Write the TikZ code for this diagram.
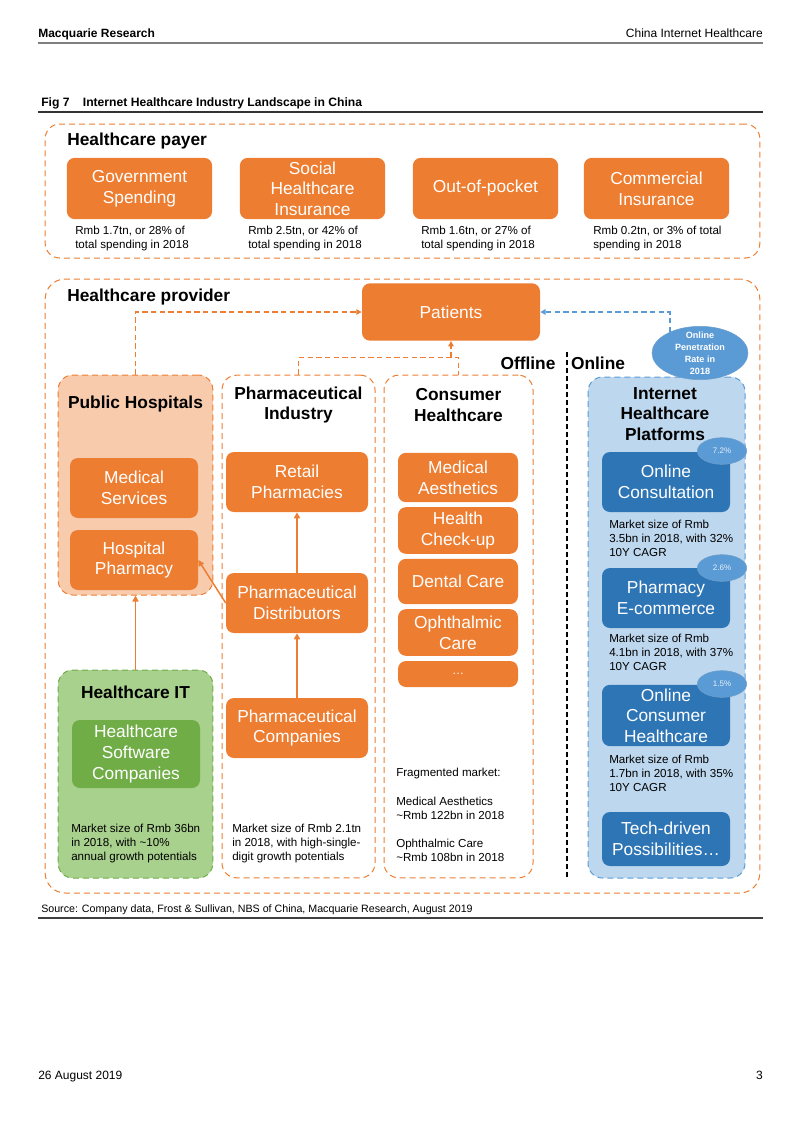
\documentclass[tikz,border=0pt]{standalone}
\usepackage{fontspec}
\setmainfont{Liberation Sans}
\usetikzlibrary{arrows.meta,shapes.geometric}
\definecolor{hcorange}{HTML}{ED7D31}
\definecolor{hcpeach}{HTML}{F8CBAD}
\definecolor{hcgreen}{HTML}{A9D18E}
\definecolor{hcdkgreen}{HTML}{70AD47}
\definecolor{hcltblue}{HTML}{BDD7EE}
\definecolor{hcblue}{HTML}{2E75B6}
\definecolor{hcmidblue}{HTML}{5B9BD5}
\newcommand\boxfont{\fontsize{13}{15.5}\selectfont}
\newcommand\notefont{\fontsize{8.7}{10.5}\selectfont}
\newcommand\headfont{\fontsize{13}{15.5}\selectfont\bfseries}

\begin{document}
\begin{tikzpicture}[x=0.75pt,y=-0.75pt,
    every node/.style={inner sep=0pt},
    obox/.style={fill=hcorange,text=white,rounded corners=6pt,align=center,font=\boxfont},
    bbox/.style={fill=hcblue,text=white,rounded corners=6pt,align=center,font=\boxfont},
    frame/.style={draw=hcorange,line width=0.75pt,dash pattern=on 4.5pt off 3pt,rounded corners=11pt},
    head/.style={font=\headfont,align=center},
    note/.style={font=\notefont,align=left,anchor=west},
    pct/.style={ellipse,fill=hcmidblue,draw=hcblue!70,line width=0.4pt,text=white!85!hcmidblue,
      font=\fontsize{6}{7}\selectfont,minimum width=37pt,minimum height=20pt},
    feed/.style={hcorange,line width=1.1pt,-{Triangle[length=4.5pt,width=4.5pt]}},
    odash/.style={hcorange,line width=1pt,dash pattern=on 4pt off 2.5pt},
    bdash/.style={hcmidblue,line width=1pt,dash pattern=on 4pt off 2.5pt}]
  \useasboundingbox (0,0) rectangle (802,1133);

  % page header and caption
  \node[anchor=base west,font=\fontsize{9}{11}\selectfont\bfseries] (mqr) at (38,37) {Macquarie Research};
  \node[anchor=base east,font=\fontsize{9}{11}\selectfont] (chn) at (763,37) {China Internet Healthcare};
  \draw[gray,line width=0.9pt] (38,43) -- (763,43);
  \node[anchor=base west,font=\fontsize{9.1}{11}\selectfont\bfseries] (fig) at (41,106)
    {Fig 7\hspace{1.1em}Internet Healthcare Industry Landscape in China};
  \draw[black!80,line width=1.1pt] (38,112) -- (763,112);

  % healthcare payer
  \node[frame,minimum width=536pt,minimum height=100.5pt] (payer) at (402.5,191) {};
  \node[head,anchor=west] (payerttl) at (67,141) {Healthcare payer};
  \node[obox,minimum width=109pt,minimum height=46pt] (gov) at (139.5,188.5) {Government\\Spending};
  \node[obox,minimum width=109pt,minimum height=46pt] (soc) at (312.5,188.5) {Social\\Healthcare\\Insurance};
  \node[obox,minimum width=109pt,minimum height=46pt] (oop) at (485.5,188.5) {Out-of-pocket};
  \node[obox,minimum width=109pt,minimum height=46pt] (com) at (656.5,188.5) {Commercial\\Insurance};
  \node[note] (govn) at (75,238.5) {Rmb 1.7tn, or 28\% of\\total spending in 2018};
  \node[note] (socn) at (248,238.5) {Rmb 2.5tn, or 42\% of\\total spending in 2018};
  \node[note] (oopn) at (421,238.5) {Rmb 1.6tn, or 27\% of\\total spending in 2018};
  \node[note] (comn) at (593,238.5) {Rmb 0.2tn, or 3\% of total\\spending in 2018};

  % healthcare provider
  \node[frame,rounded corners=15pt,minimum width=536pt,minimum height=460.5pt] (prov) at (402.5,586) {};
  \node[head,anchor=west] (provttl) at (67,297) {Healthcare provider};
  \node[obox,minimum width=133.5pt,minimum height=43pt] (pat) at (451,312) {Patients};

  % public hospitals
  \node[frame,fill=hcpeach,minimum width=116pt,minimum height=165pt] (hosp) at (135.5,485) {};
  \node[head] (hospttl) at (135.5,404) {Public Hospitals};
  \node[obox,minimum width=96pt,minimum height=45pt] (msv) at (134,488) {Medical\\Services};
  \node[obox,minimum width=96pt,minimum height=45pt] (hph) at (134,560) {Hospital\\Pharmacy};

  % healthcare IT
  \node[frame,draw=hcdkgreen,fill=hcgreen,minimum width=116pt,minimum height=156pt] (hit) at (135.5,774) {};
  \node[head] (hitttl) at (135.5,692) {Healthcare IT};
  \node[obox,fill=hcdkgreen,minimum width=96pt,minimum height=51pt] (sw) at (136,754) {Healthcare\\Software\\Companies};
  \node[note] (hitn) at (71,843) {Market size of Rmb 36bn\\in 2018, with \textasciitilde10\%\\annual growth potentials};

  % pharmaceutical industry
  \node[frame,minimum width=114.75pt,minimum height=377pt] (pharma) at (298.5,626.5) {};
  \node[head] (pharmattl) at (298.5,405) {Pharmaceutical\\Industry};
  \node[obox,minimum width=106.5pt,minimum height=45pt] (ret) at (297,482) {Retail\\Pharmacies};
  \node[obox,minimum width=106.5pt,minimum height=45pt] (dist) at (297,603) {Pharmaceutical\\Distributors};
  \node[obox,minimum width=106.5pt,minimum height=45pt] (comp) at (297,728) {Pharmaceutical\\Companies};
  \node[note] (pharman) at (232,843) {Market size of Rmb 2.1tn\\in 2018, with high-single-\\digit growth potentials};

  % consumer healthcare
  \node[frame,minimum width=111.75pt,minimum height=377pt] (cons) at (458.5,626.5) {};
  \node[head] (consttl) at (458.5,405) {Consumer\\Healthcare};
  \node[obox,minimum width=90pt,minimum height=37pt] (aes) at (458,477.5) {Medical\\Aesthetics};
  \node[obox,minimum width=90pt,minimum height=35pt] (chk) at (458,530.5) {Health\\Check-up};
  \node[obox,minimum width=90pt,minimum height=34pt] (dent) at (458,581.5) {Dental Care};
  \node[obox,minimum width=90pt,minimum height=35pt] (oph) at (458,632.5) {Ophthalmic\\Care};
  \node[obox,minimum width=90pt,minimum height=19.5pt,font=\fontsize{9}{10}\selectfont] (more) at (458,674) {…};
  \node[note] (fragn) at (396,773) {Fragmented market:};
  \node[note] (aesn) at (396,808) {Medical Aesthetics\\\textasciitilde Rmb 122bn in 2018};
  \node[note] (ophn) at (396,850) {Ophthalmic Care\\\textasciitilde Rmb 108bn in 2018};

  % offline / online divider
  \node[head] (offl) at (528,363) {Offline};
  \node[head] (onl) at (598,363) {Online};
  \draw[black,line width=1pt,dash pattern=on 3.5pt off 2.5pt] (567,352) -- (567,878);

  % internet healthcare platforms
  \node[frame,draw=hcmidblue,fill=hcltblue,minimum width=117.75pt,minimum height=375.75pt] (inet) at (666.5,627.5) {};
  \node[head] (inetttl) at (665,414) {Internet\\Healthcare\\Platforms};
  \node[bbox,minimum width=96pt,minimum height=45pt] (ocon) at (666,482) {Online\\Consultation};
  \node[note] (oconn) at (609,538) {Market size of Rmb\\3.5bn in 2018, with 32\%\\10Y CAGR};
  \node[bbox,minimum width=96pt,minimum height=45pt] (ecom) at (666,598) {Pharmacy\\E-commerce};
  \node[note] (ecomn) at (609,652) {Market size of Rmb\\4.1bn in 2018, with 37\%\\10Y CAGR};
  \node[bbox,minimum width=96pt,minimum height=46pt] (ochc) at (666,715.5) {Online\\Consumer\\Healthcare};
  \node[note] (ochcn) at (609,773) {Market size of Rmb\\1.7bn in 2018, with 35\%\\10Y CAGR};
  \node[bbox,minimum width=96pt,minimum height=40.5pt] (tech) at (666,839) {Tech-driven\\Possibilities…};
  \node[pct] (p1) at (722,451) {7.2\%};
  \node[pct] (p2) at (722,568) {2.6\%};
  \node[pct] (p3) at (722,684) {1.5\%};
  \node[ellipse,fill=hcmidblue,draw=hcblue!70,line width=0.4pt,minimum width=72pt,minimum height=40pt] (pen) at (700,353) {};
  \node[align=center,text=white,font=\fontsize{6.8}{9}\selectfont\bfseries] (pentxt) at (pen.center)
    {Online\\Penetration\\Rate in\\2018};

  % connectors
  \draw[odash,-{Triangle[length=4pt,width=4pt]}] (hosp.north) |- (pat.west);
  \draw[odash] (pharma.north) -- ++(0,-17) coordinate (brk) -| (cons.north);
  \draw[odash,-{Triangle[length=4pt,width=4pt]}] (pat.south |- brk) -- (pat.south);
  \draw[bdash,-{Triangle[length=4pt,width=4pt]}] (pen.145) |- (pat.east);
  \draw[feed] (hit.north) -- (hosp.south);
  \draw[feed] (comp.north) -- (dist.south);
  \draw[feed] (dist.north) -- (ret.south);
  \draw[feed] (dist.west) -- (hph.east);

  % source and footer
  \node[anchor=base west,font=\fontsize{8}{10}\selectfont] (src) at (41,912)
    {Source: Company data, Frost \& Sullivan, NBS of China, Macquarie Research, August 2019};
  \draw[black!75,line width=0.9pt] (38,918) -- (763,918);
  \node[anchor=base west,font=\fontsize{9}{11}\selectfont] (date) at (38,1079) {26 August 2019};
  \node[anchor=base east,font=\fontsize{9}{11}\selectfont] (pg) at (763,1079) {3};
\end{tikzpicture}
\end{document}
